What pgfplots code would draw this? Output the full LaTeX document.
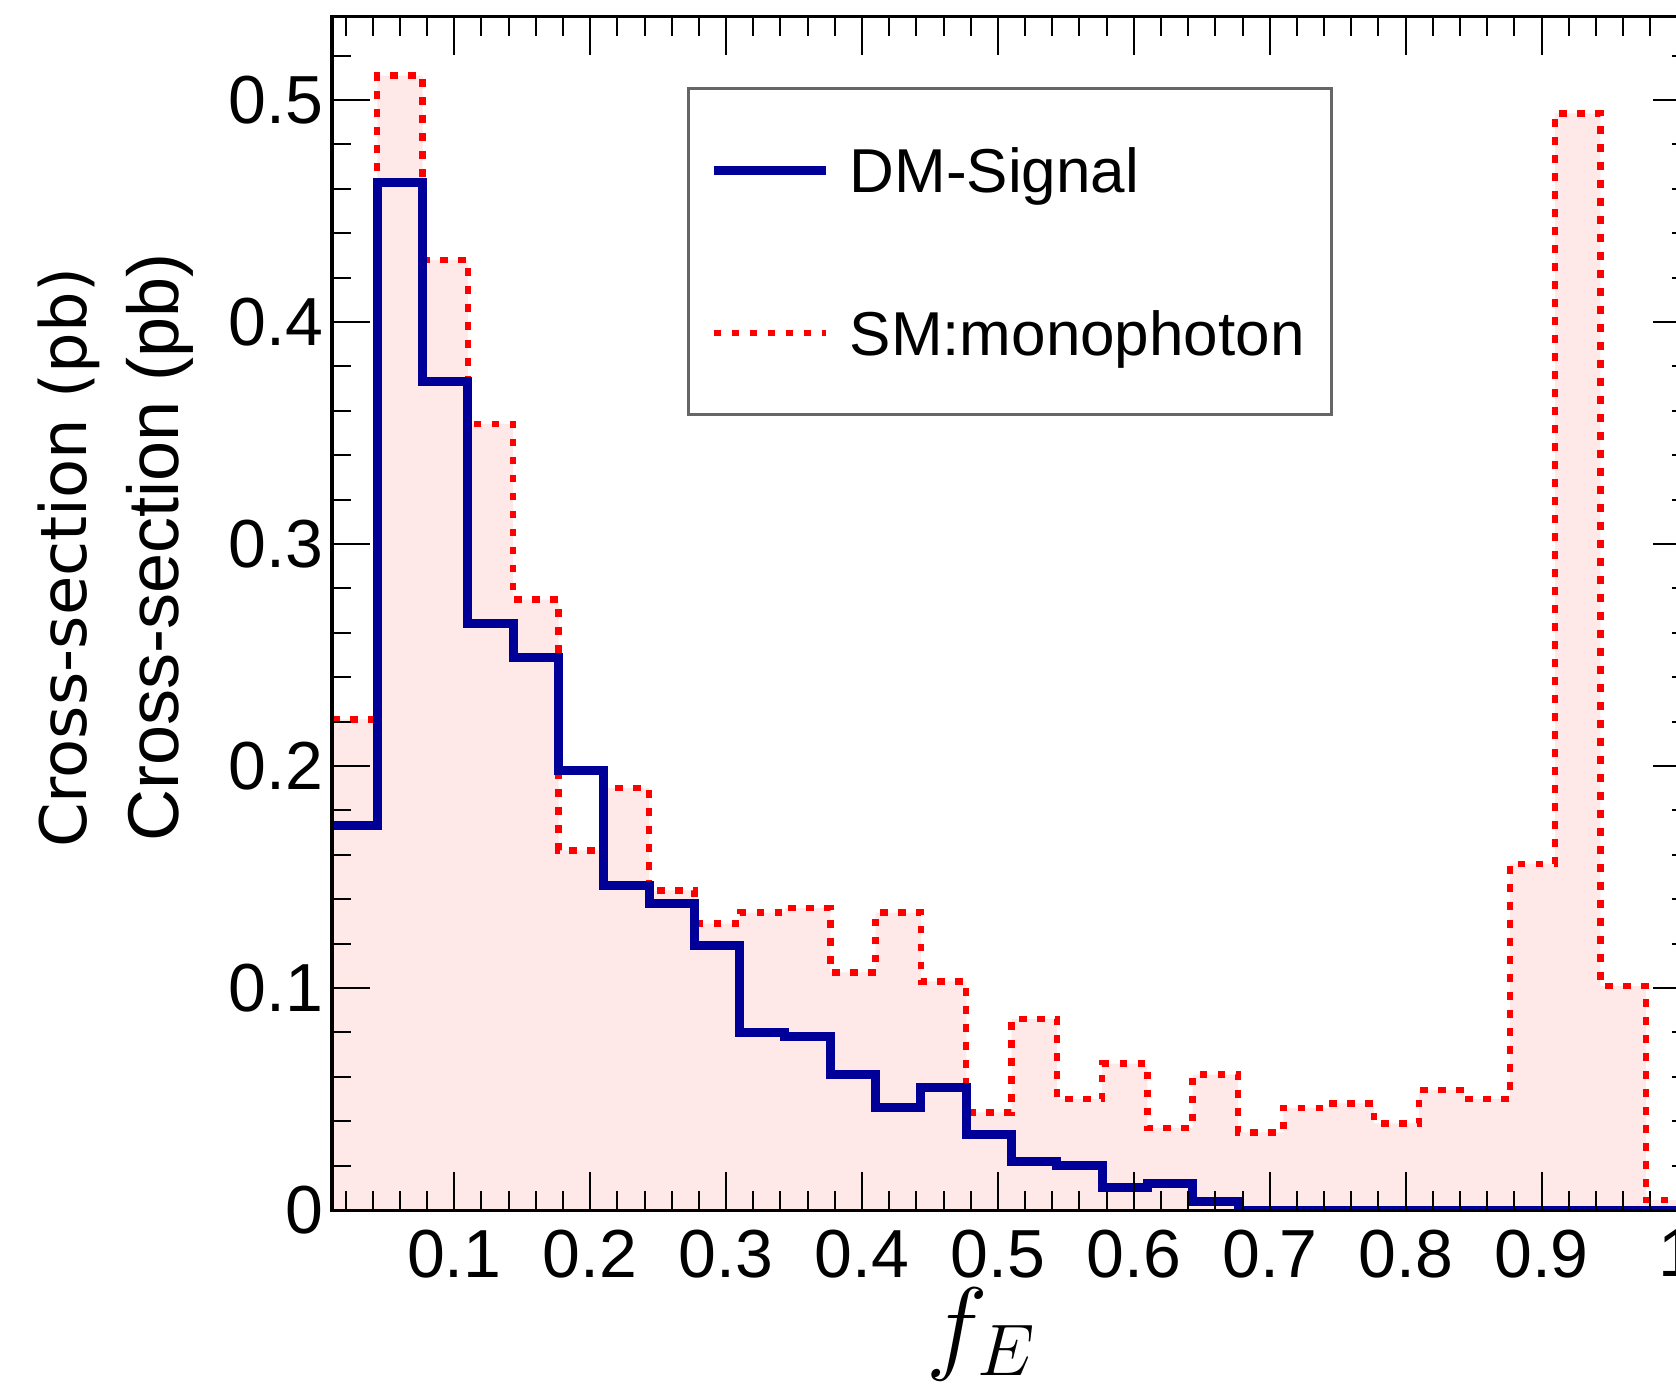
\RequirePackage{fix-cm}
\documentclass[border=0pt]{standalone}
\usepackage{fontspec}
\setmainfont{Liberation Sans}
\newfontfamily\labelfont{DejaVu Sans}
\usepackage{graphicx}
\usepackage{pgfplots}
\pgfplotsset{compat=1.18}
\definecolor{rootblue}{RGB}{0,0,153}
\definecolor{rootred}{RGB}{255,0,0}

% bin lower edges, 30 bins of 1/30 from 0.01; last row closes the last bin
\pgfplotstableread{
x       sm      dm
0.0100  0.221   0.173
0.0433  0.511   0.463
0.0767  0.428   0.373
0.1100  0.354   0.264
0.1433  0.275   0.249
0.1767  0.162   0.198
0.2100  0.190   0.146
0.2433  0.144   0.138
0.2767  0.129   0.119
0.3100  0.134   0.080
0.3433  0.136   0.078
0.3767  0.107   0.061
0.4100  0.134   0.046
0.4433  0.103   0.055
0.4767  0.044   0.034
0.5100  0.086   0.022
0.5433  0.050   0.020
0.5767  0.066   0.010
0.6100  0.037   0.012
0.6433  0.061   0.004
0.6767  0.035   0.000
0.7100  0.046   0.000
0.7433  0.048   0.000
0.7767  0.039   0.000
0.8100  0.054   0.000
0.8433  0.050   0.000
0.8767  0.156   0.000
0.9100  0.494   0.000
0.9433  0.101   0.000
0.9767  0.0045  0.000
1.0100  0.0045  0.000
}\histdata

\begin{document}
\begin{tikzpicture}
\begin{axis}[
  name=ax,
  scale only axis,
  width=339.75pt, height=298.25pt,
  xmin=0.01, xmax=1.01, ymin=0, ymax=0.5374,
  axis on top,
  axis line style={line width=0.75pt},
  tick align=inside,
  major tick length=9.5pt, minor tick length=4.75pt,
  every tick/.style={black, line width=0.5pt},
  xtick={0.1,0.2,0.3,0.4,0.5,0.6,0.7,0.8,0.9,1.0},
  ytick={0,0.1,0.2,0.3,0.4,0.5},
  minor xtick={0.02,0.04,...,1.0},
  minor ytick={0.02,0.04,...,0.52},
  scaled ticks=false,
  /pgf/number format/assume math mode=true,
  tick label style={font=\fontsize{17}{20}\selectfont},
  xticklabel style={anchor=north, inner sep=0pt, yshift=-4.75pt,
    /pgf/number format/fixed, /pgf/number format/precision=1},
  yticklabel style={anchor=east, inner sep=0pt, xshift=-2pt,
    /pgf/number format/fixed, /pgf/number format/precision=1},
  xlabel={\scalebox{1.16}{$f_E$}},
  xlabel style={at={(axis description cs:0.478,-0.1040)}, anchor=center,
    inner sep=0pt, font=\fontsize{22.5}{27}\selectfont},
  ylabel={Cross-section (pb)},
  ylabel style={at={(axis description cs:-0.1266,0.5557)}, anchor=center,
    inner sep=0pt, font=\fontsize{18}{21}\selectfont},
  reverse legend,
  legend cell align=left,
  legend image code/.code={\draw[#1] (0pt,0pt) -- (28pt,0pt);},
  legend style={at={(0.2612,0.9412)}, anchor=north west,
    draw=black!60, line width=0.75pt, fill=white,
    inner xsep=5.2pt, inner ysep=0pt, row sep=0pt, column sep=4.85pt,
    font=\fontsize{15.5}{18}\selectfont,
    nodes={inner sep=0pt, minimum height=40.75pt, text height=11.1pt,
      text depth=0pt, text width=115.3pt, align=left}},
]
\addplot[const plot, draw=none, fill=red!9, forget plot]
  table[x=x, y=sm] {\histdata} \closedcycle;
\addplot[const plot, rootred, line width=1.6pt, dash pattern=on 1.9pt off 2.6pt]
  table[x=x, y=sm] {\histdata};
\addlegendentry{SM:monophoton}
\addplot[const plot, rootblue, line width=2.25pt]
  table[x=x, y=dm] {\histdata};
\addlegendentry{DM-Signal}
\end{axis}
\node[rotate=90, inner sep=0pt, font=\fontsize{16}{19}\selectfont\labelfont]
  at ([shift={(-65.7pt,163.125pt)}]ax.south west) {Cross-section (pb)};
\pgfresetboundingbox
\path[use as bounding box] ([shift={(-83pt,-44pt)}]ax.south west)
  rectangle ([shift={(336pt,302.5pt)}]ax.south west);
\end{tikzpicture}
\end{document}
